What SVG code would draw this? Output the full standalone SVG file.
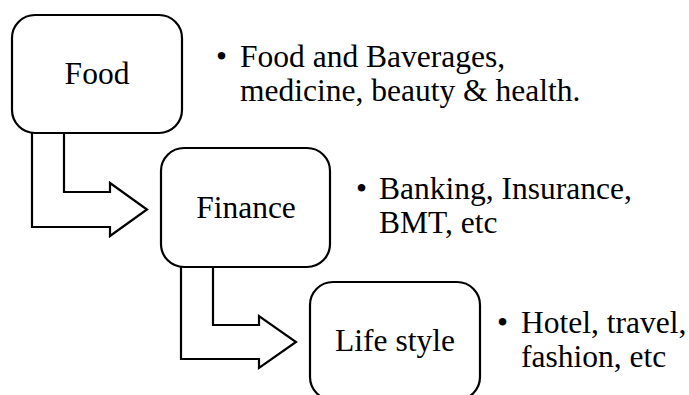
<svg xmlns="http://www.w3.org/2000/svg" width="689" height="395" viewBox="0 0 689 395">
<style>
.box{fill:#fff;stroke:#000;stroke-width:2.2}
.arr{fill:#fff;stroke:#000;stroke-width:2.2;stroke-linejoin:miter}
.t{font-family:'Liberation Serif','Times New Roman',Times,serif;font-size:31.5px;fill:#000}
.lbl{text-anchor:middle}
</style>
<rect width="689" height="395" fill="#fff"/>
<g id="connectors">
<path class="arr" d="M32,133 L32,227 L110,227 L110,236 L147,209.5 L110,183 L110,192 L64,192 L64,133"/>
<path class="arr" d="M181,267 L181,359 L259,359 L259,368 L296,342 L259,316 L259,325 L213,325 L213,267"/>
</g>
<g id="food">
<rect class="box" x="12" y="15" width="170" height="118" rx="23"/>
<text class="t lbl" x="97" y="84">Food</text>
</g>
<g id="finance">
<rect class="box" x="161" y="148" width="169" height="119" rx="23"/>
<text class="t lbl" x="246" y="218">Finance</text>
</g>
<g id="lifestyle">
<rect class="box" x="310" y="282" width="170" height="118" rx="23"/>
<text class="t lbl" x="395" y="351">Life style</text>
</g>
<g id="desc-food" class="t">
<text x="216" y="67">•</text>
<text x="240" y="67">Food and Baverages,</text>
<text x="240" y="101">medicine, beauty &amp; health.</text>
</g>
<g id="desc-finance" class="t">
<text x="356" y="199">•</text>
<text x="379" y="199">Banking, Insurance,</text>
<text x="379" y="233">BMT, etc</text>
</g>
<g id="desc-lifestyle" class="t">
<text x="497" y="333">•</text>
<text x="521" y="333">Hotel, travel,</text>
<text x="521" y="367">fashion, etc</text>
</g>
</svg>
